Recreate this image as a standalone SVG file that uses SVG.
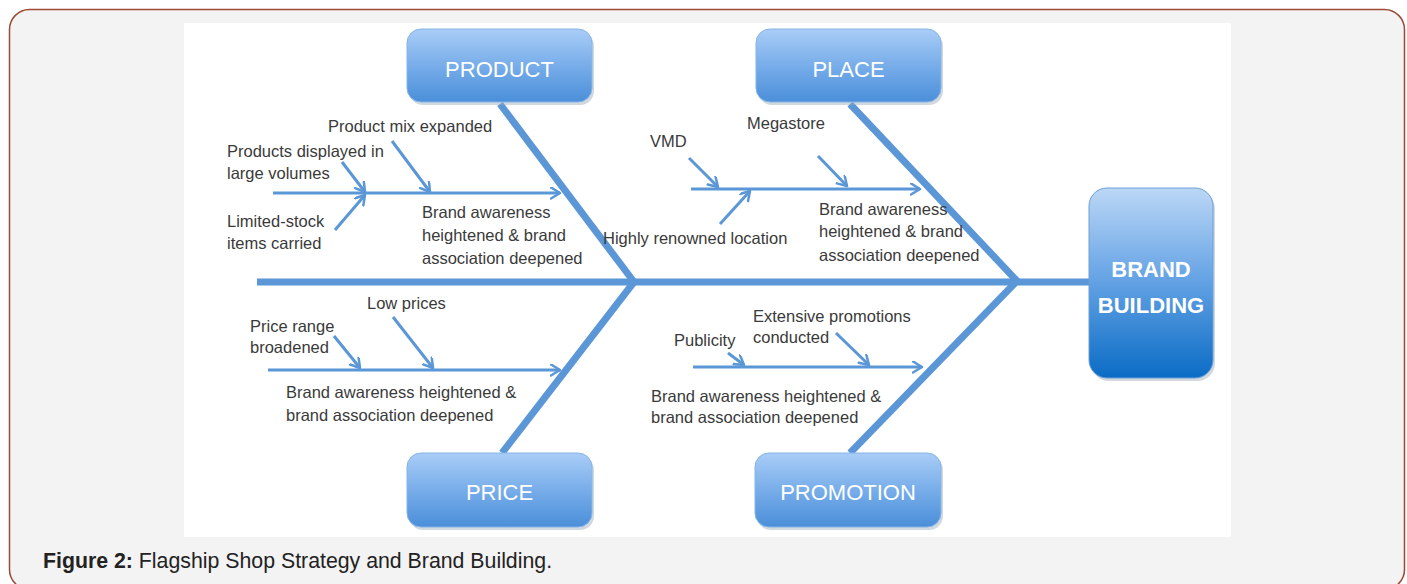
<svg xmlns="http://www.w3.org/2000/svg" width="1407" height="584" viewBox="0 0 1407 584">
<defs>
<linearGradient id="gBox" x1="0" y1="0" x2="0" y2="1">
<stop offset="0" stop-color="#a9cdf7"/>
<stop offset="0.55" stop-color="#73aae8"/>
<stop offset="1" stop-color="#4b8fd9"/>
</linearGradient>
<linearGradient id="gBrand" x1="0" y1="0" x2="0" y2="1">
<stop offset="0" stop-color="#bcd7f6"/>
<stop offset="0.45" stop-color="#6aa6e6"/>
<stop offset="1" stop-color="#0b6cc5"/>
</linearGradient>
<marker id="ah" markerUnits="userSpaceOnUse" markerWidth="14" markerHeight="14" refX="10" refY="6" orient="auto">
<path d="M1,0.5 L10,6 L1,11.5" fill="none" stroke="#5b97d6" stroke-width="2.5" stroke-linecap="round" stroke-linejoin="round"/>
</marker>
</defs>
<style>
.t{font-family:"Liberation Sans",Arial,sans-serif;font-size:16.5px;fill:#3a3a3a}
.bx{fill:url(#gBox);stroke:#86b4e8;stroke-width:1}
.sh{fill:#9aa8b8;opacity:0.45}
.bl{font-family:"Liberation Sans",Arial,sans-serif;font-size:22px;fill:#ffffff;text-anchor:middle}
.bone{stroke:#5b97d6;stroke-width:7;fill:none}
.sub{stroke:#5b97d6;stroke-width:3;fill:none;marker-end:url(#ah)}
.cap{font-family:"Liberation Sans",Arial,sans-serif;font-size:21.3px;fill:#222}
</style>
<rect x="9.5" y="9.5" width="1395" height="580" rx="20" fill="#f3f3f3" stroke="#9a4a35" stroke-width="1.5"/>
<rect x="184" y="23" width="1047" height="514" fill="#ffffff"/>

<g id="connectors">
<path class="bone" d="M257,282 H1090"/>
<path class="bone" d="M500,104 L634,282"/>
<path class="bone" d="M634,282 L502,453"/>
<path class="bone" d="M850,104 L1018,282"/>
<path class="bone" d="M1016,282 L850,453"/>
<path class="sub" d="M273,193 H560"/>
<path class="sub" d="M342,162 L365,192"/>
<path class="sub" d="M335,230 L365,195"/>
<path class="sub" d="M392,141 L430,192"/>
<path class="sub" d="M691,189 H920"/>
<path class="sub" d="M689,158 L718,187"/>
<path class="sub" d="M818,156 L847,186"/>
<path class="sub" d="M720,224 L750,191"/>
<path class="sub" d="M268,370 H560"/>
<path class="sub" d="M334,336 L360,368"/>
<path class="sub" d="M393,317 L433,368"/>
<path class="sub" d="M693,367 H922"/>
<path class="sub" d="M728,353 L744,365"/>
<path class="sub" d="M836,333 L869,365"/>
</g>

<g id="product">
<rect class="sh" x="409" y="32" width="185" height="73" rx="14"/>
<rect class="bx" x="407" y="29" width="185" height="73" rx="14"/>
<text class="bl" x="499.5" y="77">PRODUCT</text>
</g>
<g id="place">
<rect class="sh" x="758" y="32" width="185" height="73" rx="14"/>
<rect class="bx" x="756" y="29" width="185" height="73" rx="14"/>
<text class="bl" x="848.5" y="77">PLACE</text>
</g>
<g id="price">
<rect class="sh" x="409" y="456" width="185" height="74" rx="14"/>
<rect class="bx" x="407" y="453" width="185" height="74" rx="14"/>
<text class="bl" x="499.5" y="500">PRICE</text>
</g>
<g id="promotion">
<rect class="sh" x="757" y="456" width="186" height="74" rx="14"/>
<rect class="bx" x="755" y="453" width="186" height="74" rx="14"/>
<text class="bl" x="848" y="500">PROMOTION</text>
</g>
<g id="brand-building">
<rect class="sh" x="1091" y="191" width="124" height="190" rx="18"/>
<rect x="1089" y="188" width="124" height="190" rx="18" fill="url(#gBrand)" stroke="#6b9fd8" stroke-width="1"/>
<text class="bl" x="1151" y="277" font-weight="bold">BRAND</text>
<text class="bl" x="1151" y="313" font-weight="bold">BUILDING</text>
</g>

<g id="product-labels">
<text class="t" x="328" y="132">Product mix expanded</text>
<text class="t" x="227" y="157">Products displayed in</text>
<text class="t" x="227" y="179">large volumes</text>
<text class="t" x="227" y="227">Limited-stock</text>
<text class="t" x="227" y="249">items carried</text>
<text class="t" x="422" y="218">Brand awareness</text>
<text class="t" x="422" y="241">heightened &amp; brand</text>
<text class="t" x="422" y="264">association deepened</text>
</g>
<g id="place-labels">
<text class="t" x="747" y="129">Megastore</text>
<text class="t" x="650" y="147">VMD</text>
<text class="t" x="603" y="244">Highly renowned location</text>
<text class="t" x="819" y="215">Brand awareness</text>
<text class="t" x="819" y="237">heightened &amp; brand</text>
<text class="t" x="819" y="261">association deepened</text>
</g>
<g id="price-labels">
<text class="t" x="367" y="309">Low prices</text>
<text class="t" x="250" y="332">Price range</text>
<text class="t" x="250" y="353">broadened</text>
<text class="t" x="286" y="398">Brand awareness heightened &amp;</text>
<text class="t" x="286" y="421">brand association deepened</text>
</g>
<g id="promotion-labels">
<text class="t" x="753" y="322">Extensive promotions</text>
<text class="t" x="753" y="343">conducted</text>
<text class="t" x="674" y="346">Publicity</text>
<text class="t" x="651" y="402">Brand awareness heightened &amp;</text>
<text class="t" x="651" y="423">brand association deepened</text>
</g>

<text class="cap" x="43" y="568"><tspan font-weight="bold">Figure 2:</tspan> Flagship Shop Strategy and Brand Building.</text>
</svg>
